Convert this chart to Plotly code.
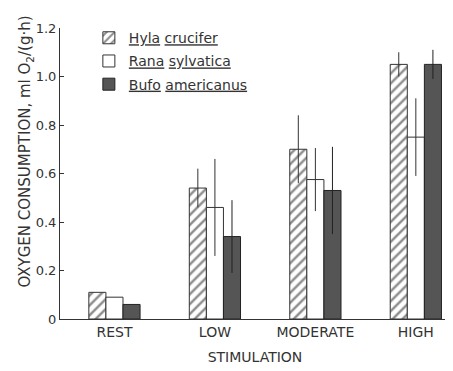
import plotly.graph_objects as go

categories = ["REST", "LOW", "MODERATE", "HIGH"]
hyla = [0.11, 0.54, 0.70, 1.05]
hyla_err = [0, 0.08, 0.14, 0.05]
rana = [0.09, 0.46, 0.575, 0.75]
rana_err = [0, 0.20, 0.13, 0.16]
bufo = [0.06, 0.34, 0.53, 1.05]
bufo_err = [0, 0.15, 0.18, 0.06]
y_ticks = [0, 0.2, 0.4, 0.6, 0.8, 1.0, 1.2]
y_ticktext = ["0", "0.2", "0.4", "0.6", "0.8", "1.0", "1.2"]

ink = "#333333"
font = "DejaVu Sans, Arial, sans-serif"

fig = go.Figure()
fig.add_trace(go.Bar(
    x=list(range(4)), y=hyla, name="<u>Hyla</u> <u>crucifer</u>",
    legendgroup="a",
    marker=dict(color="white", line=dict(color=ink, width=1),
                pattern=dict(shape="/", fgcolor="#1a1a1a", bgcolor="white", size=7, solidity=0.35)),
    error_y=dict(type="data", array=hyla_err, width=0, thickness=1, color=ink),
))
fig.add_trace(go.Bar(
    x=list(range(4)), y=rana, name="<u>Rana</u> <u>sylvatica</u>",
    legendgroup="b",
    marker=dict(color="white", line=dict(color=ink, width=1)),
    error_y=dict(type="data", array=rana_err, width=0, thickness=1, color=ink),
))
fig.add_trace(go.Bar(
    x=list(range(4)), y=bufo, name="<u>Bufo</u> <u>americanus</u>",
    legendgroup="c",
    marker=dict(color="#555555", line=dict(color="#222222", width=1)),
    error_y=dict(type="data", array=bufo_err, width=0, thickness=1, color="#222222"),
))

fig.update_layout(
    width=445, height=363,
    margin=dict(l=52, r=3, t=20, b=52),
    paper_bgcolor="white", plot_bgcolor="white",
    barmode="group", bargap=0.49, bargroupgap=0,
    font=dict(family=font, size=13, color=ink),
    showlegend=True,
    legend=dict(x=0.074, y=1.02, xanchor="left", yanchor="top",
                font=dict(family=font, size=14, color=ink),
                tracegroupgap=2, bgcolor="rgba(0,0,0,0)"),
    xaxis=dict(
        range=[-0.542, 3.34], tickvals=list(range(4)), ticktext=categories,
        showline=True, linecolor=ink, linewidth=1, ticks="", showgrid=False,
        zeroline=False, tickfont=dict(size=14),
        title=dict(text="STIMULATION", font=dict(size=14), standoff=13),
    ),
    yaxis=dict(
        range=[0, 1.2], tickvals=y_ticks, ticktext=y_ticktext,
        showline=True, linecolor=ink, linewidth=1, ticks="inside", ticklen=4,
        tickcolor=ink, showgrid=False, zeroline=False, tickfont=dict(size=13),
    ),
    annotations=[dict(
        text="OXYGEN CONSUMPTION, ml O<sub>2</sub>/(g·h)",
        xref="paper", yref="paper", x=-0.118, y=0.577,
        textangle=-90, showarrow=False, font=dict(size=15, color=ink),
    )],
)

fig.write_html("out.html")
